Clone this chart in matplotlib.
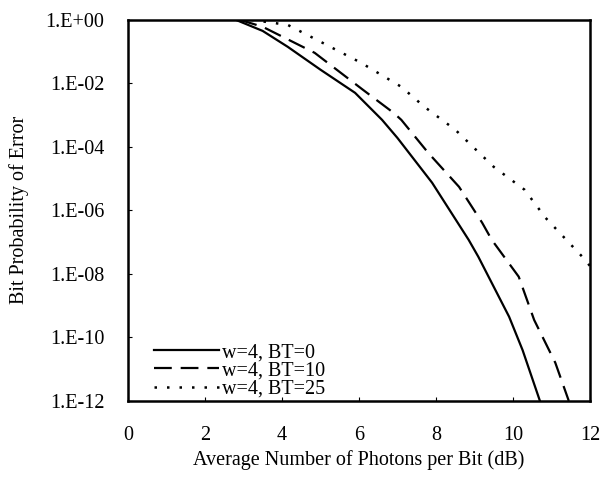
import numpy as np
import matplotlib
matplotlib.use("Agg")
import matplotlib.pyplot as plt

plt.rcParams['font.family'] = ['Liberation Serif', 'DejaVu Serif']

# BER curves (x in dB, log10 of probability)
x_bt0 = [2.8, 3.5, 4.15, 5.0, 5.9, 6.6, 7.0, 7.9, 8.85, 9.1, 9.9, 10.25, 10.7]
p_bt0 = [0.0, -0.35, -0.85, -1.57, -2.3, -3.15, -3.72, -5.13, -6.93, -7.46, -9.35, -10.4, -12.0]

x_bt10 = [2.9, 3.5, 4.85, 6.1, 6.9, 7.1, 7.8, 8.6, 9.2, 9.45, 10.15, 10.55, 11.1, 11.45]
p_bt10 = [0.0, -0.22, -1.04, -2.2, -2.93, -3.15, -4.19, -5.26, -6.39, -6.93, -8.09, -9.45, -10.8, -12.0]

x_bt25 = [3.2, 4.15, 5.0, 6.05, 7.1, 7.7, 8.5, 9.5, 10.3, 10.85, 11.8, 12.0]
p_bt25 = [0.0, -0.16, -0.69, -1.35, -2.11, -2.74, -3.46, -4.63, -5.35, -6.24, -7.46, -7.75]

labels = ["w=4, BT=0", "w=4, BT=10", "w=4, BT=25"]
yticks = [1e0, 1e-2, 1e-4, 1e-6, 1e-8, 1e-10, 1e-12]
ytick_labels = ["1.E+00", "1.E-02", "1.E-04", "1.E-06", "1.E-08", "1.E-10", "1.E-12"]
xticks = [0, 2, 4, 6, 8, 10, 12]

fs = 14.5

fig = plt.figure(figsize=(6.12, 4.83), dpi=100)
ax = fig.add_axes([0.209, 0.170, 0.755, 0.789])

ax.plot(x_bt0, 10 ** np.array(p_bt0), color='black', lw=1.6, ls='-', label=labels[0])
ax.plot(x_bt10, 10 ** np.array(p_bt10), color='black', lw=1.6, ls=(0, (8, 4)), label=labels[1])
ax.plot(x_bt25, 10 ** np.array(p_bt25), color='black', lw=1.8, ls=(0, (1, 4)), label=labels[2])

ax.set_yscale('log')
ax.set_xlim(0, 12)
ax.set_ylim(1e-12, 1e0)
ax.set_xticks(xticks)
ax.set_xticklabels([str(t) for t in xticks])
ax.set_yticks(yticks)
ax.set_yticklabels(ytick_labels)
ax.minorticks_off()
ax.tick_params(axis='both', direction='in', length=3, labelsize=fs)
ax.tick_params(axis='x', pad=18)
ax.tick_params(axis='y', pad=17)

for s in ax.spines.values():
    s.set_linewidth(1.8)

ax.set_xlabel("Average Number of Photons per Bit (dB)", fontsize=fs, labelpad=4)
ax.set_ylabel("Bit Probability of Error", fontsize=fs, labelpad=12)

ax.legend(loc='lower left', frameon=False, fontsize=fs, handlelength=3.2,
          handletextpad=0.15, labelspacing=-0.05, borderaxespad=0.0,
          bbox_to_anchor=(0.04, -0.015))

fig.savefig("out.png", dpi=100)
